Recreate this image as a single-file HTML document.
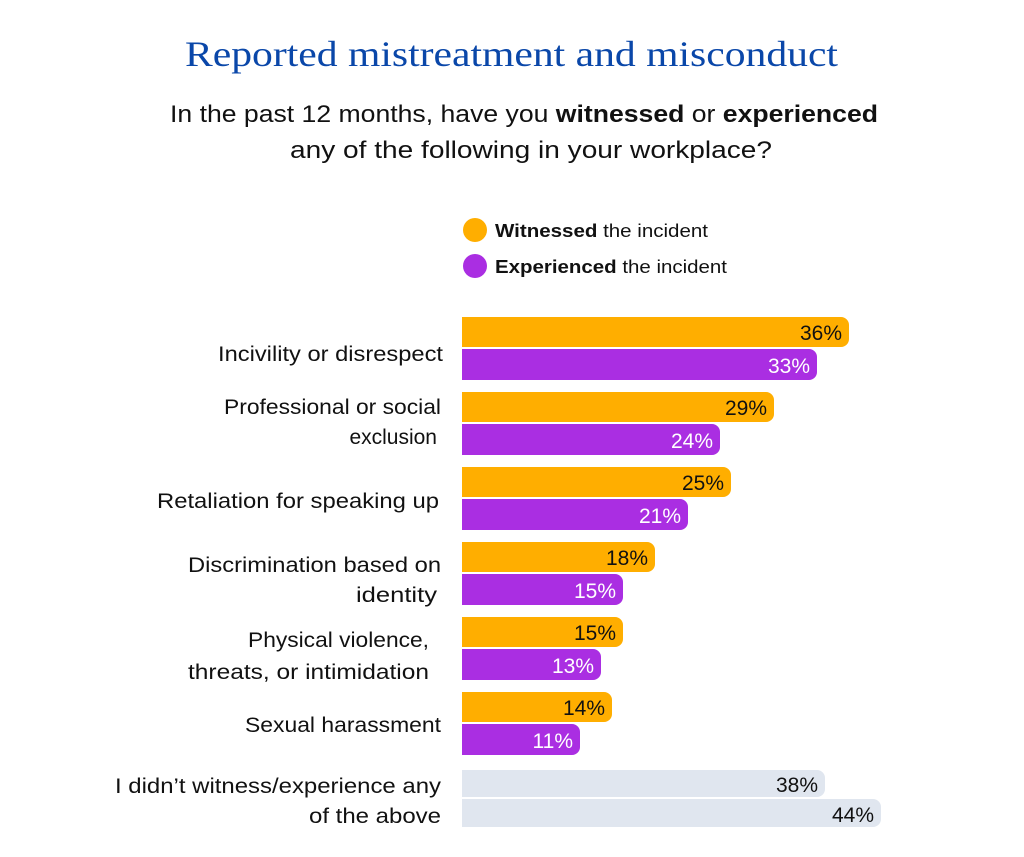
<!DOCTYPE html>
<html><head><meta charset="utf-8"><style>
html,body{margin:0;padding:0;background:#fff;}
svg{display:block;}
</style></head><body>
<svg width="1024" height="857" viewBox="0 0 1024 857" xmlns="http://www.w3.org/2000/svg" font-family="Liberation Sans, sans-serif">
<text x="185" y="66" style="font-family:'Liberation Serif',serif" font-size="36" fill="#0a47a9" textLength="653" lengthAdjust="spacingAndGlyphs">Reported mistreatment and misconduct</text>
<text x="170" y="122" font-size="24" fill="#111" textLength="708" lengthAdjust="spacingAndGlyphs">In the past 12 months, have you <tspan font-weight="bold">witnessed</tspan> or <tspan font-weight="bold">experienced</tspan></text>
<text x="290" y="158" font-size="24" fill="#111" textLength="482" lengthAdjust="spacingAndGlyphs">any of the following in your workplace?</text>
<circle cx="475" cy="230" r="12" fill="#ffae00"/>
<circle cx="475" cy="266" r="12" fill="#aa2ee2"/>
<text x="495" y="237" font-size="18" fill="#111" textLength="213" lengthAdjust="spacingAndGlyphs"><tspan font-weight="bold">Witnessed</tspan> the incident</text>
<text x="495" y="273" font-size="18" fill="#111" textLength="232" lengthAdjust="spacingAndGlyphs"><tspan font-weight="bold">Experienced</tspan> the incident</text>
<g font-size="21" fill="#111">
<text x="218" y="361" textLength="225" lengthAdjust="spacingAndGlyphs">Incivility or disrespect</text>
<text x="224" y="414" textLength="217" lengthAdjust="spacingAndGlyphs">Professional or social</text>
<text x="437" y="444" text-anchor="end">exclusion</text>
<text x="157" y="508" textLength="282" lengthAdjust="spacingAndGlyphs">Retaliation for speaking up</text>
<text x="188" y="572" textLength="253" lengthAdjust="spacingAndGlyphs">Discrimination based on</text>
<text x="356" y="602" textLength="81" lengthAdjust="spacingAndGlyphs">identity</text>
<text x="248" y="647" textLength="181" lengthAdjust="spacingAndGlyphs">Physical violence,</text>
<text x="188" y="679" textLength="241" lengthAdjust="spacingAndGlyphs">threats, or intimidation</text>
<text x="245" y="732" textLength="196" lengthAdjust="spacingAndGlyphs">Sexual harassment</text>
<text x="115" y="793" textLength="326" lengthAdjust="spacingAndGlyphs">I didn’t witness/experience any</text>
<text x="309" y="823" textLength="132" lengthAdjust="spacingAndGlyphs">of the above</text>
</g>
<g font-size="21" text-anchor="end">
<path d="M462 317 H841 a8 8 0 0 1 8 8 V339 a8 8 0 0 1 -8 8 H462Z" fill="#ffae00"/>
<text x="842" y="340" fill="#111">36%</text>
<path d="M462 349 H809 a8 8 0 0 1 8 8 V372 a8 8 0 0 1 -8 8 H462Z" fill="#aa2ee2"/>
<text x="810" y="373" fill="#fff">33%</text>

<path d="M462 392 H766 a8 8 0 0 1 8 8 V414 a8 8 0 0 1 -8 8 H462Z" fill="#ffae00"/>
<text x="767" y="415" fill="#111">29%</text>
<path d="M462 424 H712 a8 8 0 0 1 8 8 V447 a8 8 0 0 1 -8 8 H462Z" fill="#aa2ee2"/>
<text x="713" y="448" fill="#fff">24%</text>

<path d="M462 467 H723 a8 8 0 0 1 8 8 V489 a8 8 0 0 1 -8 8 H462Z" fill="#ffae00"/>
<text x="724" y="490" fill="#111">25%</text>
<path d="M462 499 H680 a8 8 0 0 1 8 8 V522 a8 8 0 0 1 -8 8 H462Z" fill="#aa2ee2"/>
<text x="681" y="523" fill="#fff">21%</text>

<path d="M462 542 H647 a8 8 0 0 1 8 8 V564 a8 8 0 0 1 -8 8 H462Z" fill="#ffae00"/>
<text x="648" y="565" fill="#111">18%</text>
<path d="M462 574 H615 a8 8 0 0 1 8 8 V597 a8 8 0 0 1 -8 8 H462Z" fill="#aa2ee2"/>
<text x="616" y="598" fill="#fff">15%</text>

<path d="M462 617 H615 a8 8 0 0 1 8 8 V639 a8 8 0 0 1 -8 8 H462Z" fill="#ffae00"/>
<text x="616" y="640" fill="#111">15%</text>
<path d="M462 649 H593 a8 8 0 0 1 8 8 V672 a8 8 0 0 1 -8 8 H462Z" fill="#aa2ee2"/>
<text x="594" y="673" fill="#fff">13%</text>

<path d="M462 692 H604 a8 8 0 0 1 8 8 V714 a8 8 0 0 1 -8 8 H462Z" fill="#ffae00"/>
<text x="605" y="715" fill="#111">14%</text>
<path d="M462 724 H572 a8 8 0 0 1 8 8 V747 a8 8 0 0 1 -8 8 H462Z" fill="#aa2ee2"/>
<text x="573" y="748" fill="#fff">11%</text>

<path d="M462 770 H817 a8 8 0 0 1 8 8 V789 a8 8 0 0 1 -8 8 H462Z" fill="#e0e6ef"/>
<text x="818" y="792" fill="#111">38%</text>
<path d="M462 799 H873 a8 8 0 0 1 8 8 V819 a8 8 0 0 1 -8 8 H462Z" fill="#e0e6ef"/>
<text x="874" y="822" fill="#111">44%</text>
</g>
</svg>
</body></html>
